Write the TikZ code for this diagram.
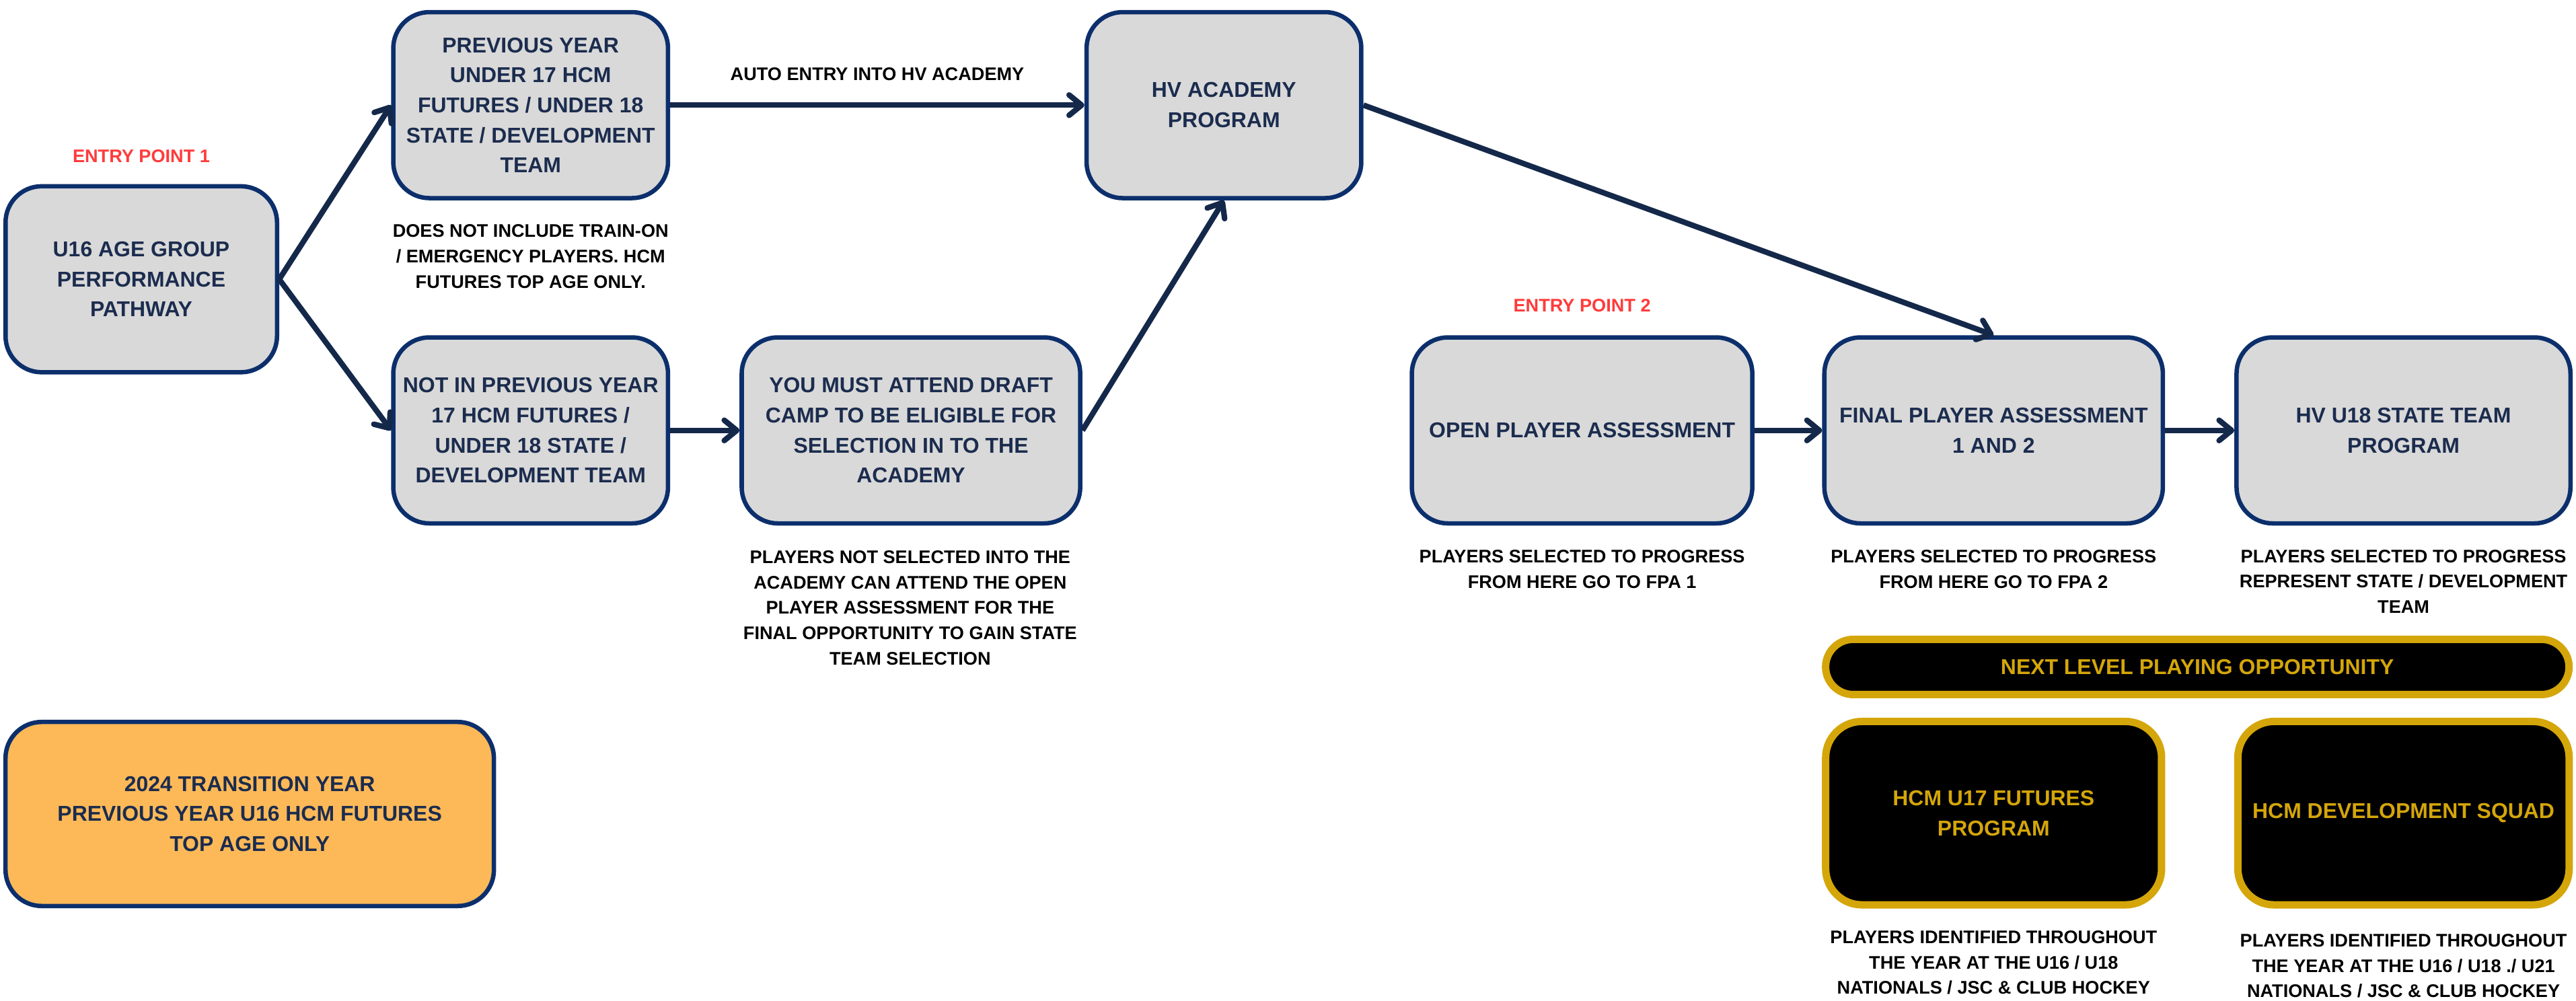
\documentclass[tikz,border=0pt]{standalone}
\usepackage{fontspec}
\setmainfont{Liberation Sans}
\usepackage{xcolor}
\usepackage{tikz}
\usetikzlibrary{arrows.meta}

\definecolor{boxline}{HTML}{0C2F6C}
\definecolor{boxfill}{HTML}{D9D9D9}
\definecolor{boxtext}{HTML}{1B2C4E}
\definecolor{arrowcol}{HTML}{14284A}
\definecolor{entryred}{HTML}{FF3B3B}
\definecolor{hcmgold}{HTML}{D4A60A}
\definecolor{transfill}{HTML}{FDB958}

\tikzset{
  pathbox/.style={rectangle, rounded corners=0.55cm, draw=boxline, fill=boxfill,
    line width=1.9pt, align=center, text=boxtext, inner sep=2pt,
    font=\bfseries\fontsize{9.3}{13}\selectfont, minimum height=2.83cm},
  hcmbox/.style={rectangle, rounded corners=0.55cm, draw=hcmgold, fill=black,
    line width=3.2pt, align=center, text=hcmgold, inner sep=2pt,
    font=\bfseries\fontsize{9.3}{13}\selectfont, minimum height=2.79cm},
  note/.style={align=center, font=\bfseries\fontsize{7.9}{11}\selectfont},
  entry/.style={text=entryred, font=\bfseries\fontsize{7.9}{11}\selectfont},
  flow/.style={draw=arrowcol, line width=2.4pt,
    -{Straight Barb[length=1.9mm,width=3.1mm,round]}}
}

\begin{document}
\begin{tikzpicture}[x=0.025cm, y=-0.025cm]
    \useasboundingbox (0,0) rectangle (1568,609);

    % Entry point 1 path
    \node[pathbox, minimum width=4.13cm] (u16) at (86,170) {U16 AGE GROUP\\PERFORMANCE\\PATHWAY};
    \node[pathbox, minimum width=4.18cm] (prevyear) at (323,64) {PREVIOUS YEAR\\UNDER 17 HCM\\FUTURES / UNDER 18\\STATE / DEVELOPMENT\\TEAM};
    \node[pathbox, minimum width=4.18cm] (notprev) at (323,262) {NOT IN PREVIOUS YEAR\\17 HCM FUTURES /\\UNDER 18 STATE /\\DEVELOPMENT TEAM};
    \node[pathbox, minimum width=5.15cm] (draftcamp) at (554.5,262) {YOU MUST ATTEND DRAFT\\CAMP TO BE ELIGIBLE FOR\\SELECTION IN TO THE\\ACADEMY};
    \node[pathbox, minimum width=4.18cm] (academy) at (745,64) {HV ACADEMY\\PROGRAM};

    % Entry point 2 path
    \node[pathbox, minimum width=5.18cm] (openpa) at (963,262) {OPEN PLAYER ASSESSMENT};
    \node[pathbox, minimum width=5.15cm] (finalpa) at (1213.5,262) {FINAL PLAYER ASSESSMENT\\1 AND 2};
    \node[pathbox, minimum width=5.08cm] (statepro) at (1463,262) {HV U18 STATE TEAM\\PROGRAM};

    % Next level boxes
    \node[hcmbox, minimum width=11.31cm, minimum height=0.84cm, rounded corners=0.42cm] (nextlevel) at (1337.5,406) {NEXT LEVEL PLAYING OPPORTUNITY};
    \node[hcmbox, minimum width=5.11cm] (futures) at (1213.5,495) {HCM U17 FUTURES\\PROGRAM};
    \node[hcmbox, minimum width=5.04cm] (devsquad) at (1463,495) {HCM DEVELOPMENT SQUAD};

    % Transition year
    \node[pathbox, fill=transfill, minimum width=7.43cm, minimum height=2.8cm] (transition) at (152,495.5) {2024 TRANSITION YEAR\\PREVIOUS YEAR U16 HCM FUTURES\\TOP AGE ONLY};

    % Arrows
    \draw[flow] (u16.east) -- (prevyear.west);
    \draw[flow] (u16.east) -- (notprev.west);
    \draw[flow] (prevyear.east) -- (academy.west);
    \draw[flow] (notprev.east) -- (draftcamp.west);
    \draw[flow] (draftcamp.east) -- (academy.south);
    \draw[flow] (academy.east) -- (finalpa.north);
    \draw[flow] (openpa.east) -- (finalpa.west);
    \draw[flow] (finalpa.east) -- (statepro.west);

    % Labels
    \node[entry] (entry1) at (86,95) {ENTRY POINT 1};
    \node[entry] (entry2) at (963,186) {ENTRY POINT 2};
    \node[note] (autoentry) at (534,45) {AUTO ENTRY INTO HV ACADEMY};
    \node[note] (prevnote) at (323,156) {DOES NOT INCLUDE TRAIN-ON\\/ EMERGENCY PLAYERS. HCM\\FUTURES TOP AGE ONLY.};
    \node[note] (draftnote) at (554,370) {PLAYERS NOT SELECTED INTO THE\\ACADEMY CAN ATTEND THE OPEN\\PLAYER ASSESSMENT FOR THE\\FINAL OPPORTUNITY TO GAIN STATE\\TEAM SELECTION};
    \node[note] (opennote) at (963,346.5) {PLAYERS SELECTED TO PROGRESS\\FROM HERE GO TO FPA 1};
    \node[note] (finalnote) at (1213.5,346.5) {PLAYERS SELECTED TO PROGRESS\\FROM HERE GO TO FPA 2};
    \node[note] (statenote) at (1463,354) {PLAYERS SELECTED TO PROGRESS\\REPRESENT STATE / DEVELOPMENT\\TEAM};
    \node[note] (futuresnote) at (1213.5,586) {PLAYERS IDENTIFIED THROUGHOUT\\THE YEAR AT THE U16 / U18\\NATIONALS / JSC \& CLUB HOCKEY};
    \node[note] (devnote) at (1463,588) {PLAYERS IDENTIFIED THROUGHOUT\\THE YEAR AT THE U16 / U18 ./ U21\\NATIONALS / JSC \& CLUB HOCKEY};
\end{tikzpicture}
\end{document}
